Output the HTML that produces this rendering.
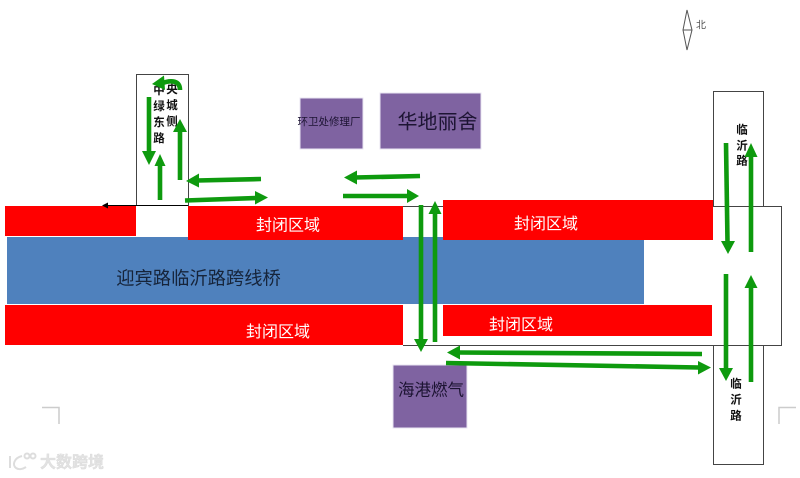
<!DOCTYPE html>
<html><head><meta charset="utf-8">
<style>
html,body{margin:0;padding:0;background:#fff}
svg{display:block}
text{font-family:"Liberation Sans","Noto Sans CJK SC",sans-serif}
.w{fill:#fff;font-size:16px;text-anchor:middle;dominant-baseline:central}
.d{fill:#1d1433;text-anchor:middle;dominant-baseline:central}
.b{fill:#111;font-size:11.500px;font-weight:700;text-anchor:middle;dominant-baseline:central}
.g{stroke:#0e9a0e;stroke-width:4.600;fill:none}
.h{fill:#0e9a0e}
.l{stroke:#444;stroke-width:1;fill:none}
</style></head>
<body>
<svg width="800" height="478" viewBox="0 0 800 478" xmlns="http://www.w3.org/2000/svg">
<rect width="800" height="478" fill="#fff"/>

<!-- blocks -->
<rect x="7" y="237" width="637" height="67" fill="#4f81bd"/>
<rect x="5" y="206" width="131" height="30" fill="#f00"/>
<rect x="188" y="206" width="215" height="34" fill="#f00"/>
<rect x="443" y="200" width="270" height="40" fill="#f00"/>
<rect x="5" y="305" width="398" height="40" fill="#f00"/>
<rect x="443" y="305" width="269" height="31" fill="#f00"/>
<rect x="300" y="98" width="63" height="51" fill="#7f63a1" stroke="#e9e6f2" stroke-width="1"/>
<rect x="380" y="93" width="101" height="56" fill="#7f63a1" stroke="#e9e6f2" stroke-width="1"/>
<rect x="393" y="365" width="74" height="63" fill="#7f63a1" stroke="#e9e6f2" stroke-width="1"/>

<!-- road outlines -->
<path class="l" d="M136.500 206V74.500H188.500V206"/>
<path class="l" d="M713.500 206V91.500H763.500V206"/>
<path class="l" d="M713.500 346V464.500H763.500V346"/>
<path class="l" d="M403 206.500H443M713 206.500H781.500V345.500H403"/>
<path d="M188 205.500H108" stroke="#000" stroke-width="1"/>
<path d="M102 205.500L108 202.500V208.500Z" fill="#000"/>

<!-- labels -->
<text class="w" x="288" y="226">封闭区域</text>
<text class="w" x="546" y="224.500">封闭区域</text>
<text class="w" x="278" y="332.500">封闭区域</text>
<text class="w" x="521" y="325.500">封闭区域</text>
<text x="198.500" y="278" font-size="18.300" fill="#16243a" text-anchor="middle" dominant-baseline="central">迎宾路临沂路跨线桥</text>
<text class="d" x="329" y="122" font-size="10.500">环卫处修理厂</text>
<text class="d" x="437.500" y="122.500" font-size="20">华地丽舍</text>
<text class="d" x="431" y="390.500" font-size="16.500">海港燃气</text>

<text class="b" x="159" y="91">中</text><text class="b" x="159" y="107">绿</text><text class="b" x="159" y="123">东</text><text class="b" x="159" y="139">路</text>
<text class="b" x="172" y="90">央</text><text class="b" x="172" y="106">城</text><text class="b" x="172" y="122">侧</text>
<text class="b" x="742" y="130.500">临</text><text class="b" x="742" y="146.500">沂</text><text class="b" x="742" y="161.500">路</text>
<text class="b" x="736" y="384.500">临</text><text class="b" x="736" y="400.500">沂</text><text class="b" x="736" y="416.500">路</text>

<!-- green arrows -->
<path class="g" d="M149 97V152"/><path class="h" d="M142 151H156L149 165Z"/>
<path class="g" d="M160 200V165"/><path class="h" d="M154.500 166H165.500L160 154Z"/>
<path class="g" d="M180 180V130"/><path class="h" d="M173 132H187L180 119Z"/>
<path class="g" d="M261 179L197 180.500"/><path class="h" d="M199 173.500V187.500L186 181Z"/>
<path class="g" d="M185 200.500L256 198"/><path class="h" d="M255 191V204.500L268 197.500Z"/>
<path class="g" d="M180 90C180 81 172 79 160 84" stroke-width="5"/><path class="h" d="M164 75.500L152 84L165 90Z"/>

<path class="g" d="M420 176L355 177.500"/><path class="h" d="M357 170.500V184.500L344 177.500Z"/>
<path class="g" d="M343 196H408"/><path class="h" d="M407 189V203L419 196Z"/>
<path class="g" d="M421 205V340"/><path class="h" d="M414 339H428L421 352Z"/>
<path class="g" d="M435 342V212"/><path class="h" d="M428.500 214H441.500L435 201Z"/>

<path class="g" d="M726 143L727.500 242"/><path class="h" d="M721 241H735L728 254Z"/>
<path class="g" d="M751 252V155"/><path class="h" d="M744.500 157H757.500L751 143Z"/>
<path class="g" d="M726 274V369"/><path class="h" d="M719 368H733L726 381Z"/>
<path class="g" d="M751 382V287"/><path class="h" d="M744.500 288H757.500L751 275Z"/>
<path class="g" d="M702 354L458 352.500"/><path class="h" d="M460 345.500V359.500L447 352.500Z"/>
<path class="g" d="M446 363L699 367.500"/><path class="h" d="M698 361V374.500L711 367.500Z"/>

<!-- compass -->
<path d="M687 10L692 30L687 50L683 30Z M683 30H692" fill="none" stroke="#555" stroke-width="1"/>
<text x="701" y="26" font-size="10" fill="#555" text-anchor="middle" dominant-baseline="central">北</text>

<!-- page corners -->
<path d="M42 407.500H59V424" fill="none" stroke="#ccc" stroke-width="1.500"/>
<path d="M779 424V407.500H796" fill="none" stroke="#ccc" stroke-width="1.500"/>

<!-- watermark -->
<g fill="none" stroke="#ddd" stroke-width="2">
<path d="M10 456V468"/><path d="M22 456C14 458 12 465 16 468C19 470 23 469 26 467"/>
<circle cx="27" cy="456" r="2.500"/><circle cx="33" cy="456" r="2.500"/>
</g>
<text x="40" y="463" font-size="16" font-weight="700" fill="#e2e2e2" dominant-baseline="central" stroke="#d5d5d5" stroke-width=".3">大数跨境</text>
</svg>
</body></html>
